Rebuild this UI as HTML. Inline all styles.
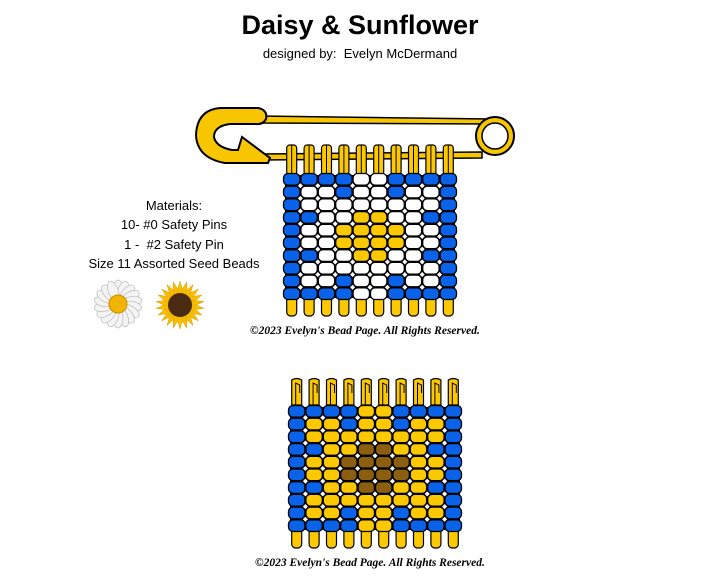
<!DOCTYPE html>
<html><head><meta charset="utf-8"><style>
body{margin:0;background:#fff;width:720px;height:576px;overflow:hidden;position:relative;font-family:"Liberation Sans",sans-serif}
.t{position:absolute;left:0;width:720px;text-align:center}
</style></head><body>
<div class="t" style="top:10px;font-size:27px;font-weight:bold">Daisy &amp; Sunflower</div>
<div class="t" style="top:46px;font-size:13px">designed by:&nbsp; Evelyn McDermand</div>
<div style="position:absolute;left:84px;width:180px;top:196px;text-align:center;font-size:13px;line-height:19.3px">Materials:<br>10- #0 Safety Pins<br>1 -&nbsp; #2 Safety Pin<br>Size 11 Assorted Seed Beads</div>
<div style="position:absolute;left:250px;top:325px;font:italic bold 11.5px 'Liberation Serif',serif">©2023 Evelyn's Bead Page. All Rights Reserved.</div>
<div style="position:absolute;left:255px;top:557px;font:italic bold 11.5px 'Liberation Serif',serif">©2023 Evelyn's Bead Page. All Rights Reserved.</div>
<svg id="s" width="720" height="576" style="position:absolute;left:0;top:0">
<path d="M258,116 L490,119 L490,124 L258,123 Z" fill="#f7c600" stroke="#000" stroke-width="1.5"/>
<path d="M262,154 L482,152 L482,158 L262,160 Z" fill="#f7c600" stroke="#000" stroke-width="1.5"/>
<circle cx="495" cy="136" r="19" fill="#f7c600" stroke="#000" stroke-width="2"/>
<circle cx="495" cy="136" r="13" fill="#fff" stroke="#000" stroke-width="1.5"/>
<path d="M220,108 L258,108 Q268,110 266,119 Q263,125 255,124 L230,124 Q214,126 214,137 Q216,147 232,150 L238,150 L242,137 L270,158 L268,163 L225,163 Q197,158 196,135 Q197,110 220,108 Z" fill="#f7c600" stroke="#000" stroke-width="2"/>
<g id="g"></g>
<g transform="translate(118,304)">
<g id="daisy"></g>
<circle r="9" fill="#f1b500" stroke="#d08a00"/>
</g>
<g transform="translate(180,305)">
<g id="sun"></g>
<circle r="12" fill="#4a2a10"/>
</g>
</svg>
<script>
const ns="http://www.w3.org/2000/svg";
const g=document.getElementById('g');
function el(t,a,p){const e=document.createElementNS(ns,t);for(const k in a)e.setAttribute(k,a[k]);(p||g).appendChild(e);return e;}
const C={B:'#0a62e8',W:'#fff',Y:'#fcc800',D:'#8b5e10'};
function grid(x0,y0,rows,topPins){
 const w=17.4,h=12.7;
 for(let c=0;c<10;c++){
  const x=x0+c*w+w/2;
  if(topPins){
   el('rect',{x:x-5,y:y0-28,width:10,height:30,rx:3,fill:'#fcc800',stroke:'#000','stroke-width':1.2});
   el('line',{x1:x,y1:y0-28,x2:x,y2:y0,stroke:'#000','stroke-width':1});
  } else {
   el('path',{d:`M${x-5},${y0} L${x-5},${y0-25} Q${x},${y0-28} ${x+5},${y0-25} L${x+5},${y0} Z`,fill:'#fcc800',stroke:'#000','stroke-width':1.2});
   el('path',{d:`M${x-1},${y0} L${x-1},${y0-22} L${x+3},${y0-20} L${x+3},${y0-12}`,fill:'none',stroke:'#000','stroke-width':1});
  }
  el('rect',{x:x-5,y:y0+10*h-4,width:10,height:20,rx:4,fill:'#fcc800',stroke:'#000','stroke-width':1.2});
 }
 el('rect',{x:x0+2,y:y0+2,width:10*w-4,height:10*h-4,fill:'#000'});
 rows.forEach((r,ri)=>{for(let c=0;c<10;c++){
  el('rect',{x:x0+c*w+0.5,y:y0+ri*h+0.5,width:w-1,height:h-1,rx:4.5,fill:C[r[c]],stroke:'#000','stroke-width':1.3});
 }});
 for(let ri=1;ri<10;ri++)for(let c=1;c<10;c++)
  el('rect',{x:x0+c*w-1.8,y:y0+ri*h-1.8,width:3.6,height:3.6,fill:'#fff',transform:`rotate(45 ${x0+c*w} ${y0+ri*h})`});
}
grid(283,173,["BBBBWWBBBB","BWWBWWBWWB","BWWWWWWWWB","BBWWYYWWBB","BWWYYYYWWB","BWWYYYYWWB","BBWWYYWWBB","BWWWWWWWWB","BWWBWWBWWB","BBBBWWBBBB"],true);
grid(288,405,["BBBBYYBBBB","BYYBYYBYYB","BYYYYYYYYB","BBYYDDYYBB","BYYDDDDYYB","BYYDDDDYYB","BBYYDDYYBB","BYYYYYYYYB","BYYBYYBYYB","BBBBYYBBBB"],false);
const d=document.getElementById('daisy'),s=document.getElementById('sun');
for(let i=0;i<18;i++){const a=i*20;
 el('ellipse',{cx:0,cy:-14,rx:5,ry:10,fill:'#f4f4f4',stroke:'#bbb','stroke-width':0.7,transform:`rotate(${a})`},d);}
for(let i=0;i<22;i++){const a=i*360/22;
 el('path',{d:'M-4,-10 L0,-24 L4,-10 Z',fill:'#f8c000',stroke:'#e09a00','stroke-width':0.5,transform:`rotate(${a})`},s);}
el('circle',{r:15,fill:'#f5b800'},s);
</script>
</body></html>
